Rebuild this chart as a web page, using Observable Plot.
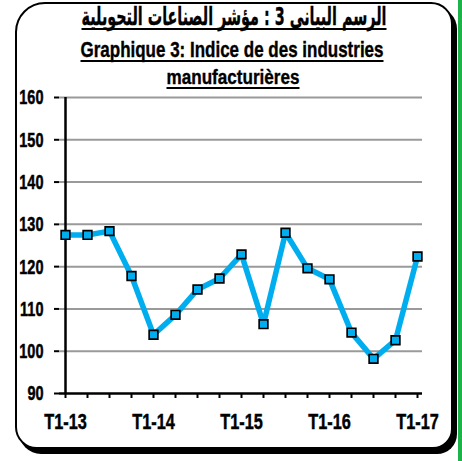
<!DOCTYPE html>
<html>
<head>
<meta charset="utf-8">
<script src="https://cdn.jsdelivr.net/npm/d3@7"></script>
<script src="https://cdn.jsdelivr.net/npm/@observablehq/plot@0.6"></script>
<style>
  html, body { margin: 0; padding: 0; background: #fff; }
  #wrap { position: relative; width: 462px; height: 461px; overflow: hidden; background: #fff; font-family: "Liberation Sans", Arial, sans-serif; }
  #frame { position: absolute; left: 15px; top: 2px; width: 434px; height: 443px; border: 2px solid #000; border-radius: 30px 22px 20px 22px; box-shadow: 4px 5px 0 0 #000; background: #fff; }
  #green { position: absolute; left: 458px; top: 0; width: 4px; height: 461px; background: #1db34a; }
  #plot, #titles { position: absolute; left: 0; top: 0; }
</style>
</head>
<body>
<div id="wrap">
  <div id="frame"></div>
  <div id="green"></div>
  <div id="plot"></div>
  <svg id="titles" width="462" height="461"></svg>
</div>
<script>
// ---- data ----
const quarters = ["T1-13","T2-13","T3-13","T4-13","T1-14","T2-14","T3-14","T4-14","T1-15","T2-15","T3-15","T4-15","T1-16","T2-16","T3-16","T4-16","T1-17"];
const values = [127.5, 127.5, 128.4, 117.8, 103.9, 108.6, 114.6, 117.2, 122.9, 106.4, 128.0, 119.6, 117.0, 104.4, 98.2, 102.6, 122.4];
const yTicks = [90, 100, 110, 120, 130, 140, 150, 160];
const xLabels = ["T1-13","T1-14","T1-15","T1-16","T1-17"];
const titleAr = "الرسم البيانى 3 : مؤشر الصناعات التحويلية";
const titleFr1 = "Graphique 3: Indice de des industries";
const titleFr2 = "manufacturières";

const data = quarters.map((q, i) => ({q, v: values[i]}));
const blue = "#00aeef";

const chart = Plot.plot({
  width: 462,
  height: 461,
  marginLeft: 59,
  marginRight: 40,
  marginTop: 97,
  marginBottom: 68,
  style: {background: "transparent", fontFamily: "'Liberation Sans', Arial, sans-serif", fontWeight: "bold", fontSize: "14.5px", color: "#000", overflow: "visible"},
  x: {type: "point", domain: quarters, padding: 0},
  y: {domain: [90, 160]},
  marks: [
    Plot.ruleY(yTicks.filter(d => d > 90), {stroke: "#9a9a9a", strokeWidth: 2, strokeOpacity: 1}),
    Plot.axisY({ticks: yTicks, tickSize: 5, tickPadding: 11, strokeWidth: 2, stroke: "#000", label: null, fill: "#000"}),
    Plot.axisX({tickSize: 5, tickPadding: 16.5, fontSize: 16.3, strokeWidth: 2, stroke: "#000", label: null, fill: "#000",
      tickFormat: d => xLabels.includes(d) ? d : ""}),
    Plot.ruleY([90], {stroke: "#000", strokeWidth: 2.5}),
    Plot.ruleX([quarters[0]], {y1: 90, y2: 160, stroke: "#000", strokeWidth: 2.5}),
    Plot.line(data, {x: "q", y: "v", stroke: blue, strokeWidth: 5.5}),
    Plot.dot(data, {x: "q", y: "v", symbol: "square", r: 4.9, fill: blue, stroke: "#000", strokeWidth: 1.7})
  ]
});
document.getElementById("plot").appendChild(chart);

// stretch tick label glyphs vertically about their own centre (tall narrow look of the original)
const svgEl = chart.tagName.toLowerCase() === "svg" ? chart : chart.querySelector("svg");
svgEl.querySelectorAll("text").forEach(t => {
  if (!t.textContent) return;
  const isX = !!t.closest('[aria-label^="x-axis"]');
  const s = isX ? 1.33 : 1.45;
  const b = t.getBBox();
  let e = 0, f = 0;
  const tl = t.transform && t.transform.baseVal;
  if (tl && tl.numberOfItems) { const m = tl.consolidate().matrix; e = m.e; f = m.f; }
  const cx = e + b.x + b.width / 2, cy = f + b.y + b.height / 2;
  const g = document.createElementNS("http://www.w3.org/2000/svg", "g");
  g.setAttribute("transform", `translate(${cx},${cy}) scale(1,${s}) translate(${-cx},${-cy})`);
  t.parentNode.insertBefore(g, t);
  g.appendChild(t);
  t.setAttribute("stroke", "#000");
  t.setAttribute("stroke-width", "0.35");
});

// ---- titles ----
const ts = d3.select("#titles");
function title(txt, cx, baseline, width, size, sy, font, rtl) {
  const g = ts.append("g").attr("transform", `translate(${cx},${baseline}) scale(1,${sy})`);
  const t = g.append("text")
    .attr("x", 0).attr("y", 0)
    .attr("text-anchor", "middle")
    .attr("font-family", font)
    .attr("font-weight", "bold")
    .attr("font-size", size)
    .attr("textLength", width)
    .attr("lengthAdjust", "spacingAndGlyphs")
    .attr("stroke", "#000").attr("stroke-width", 0.3)
    .text(txt);
  if (rtl) t.attr("direction", "rtl");
  ts.append("line")
    .attr("x1", cx - width / 2).attr("x2", cx + width / 2)
    .attr("y1", baseline + 4).attr("y2", baseline + 4)
    .attr("stroke", "#000").attr("stroke-width", 2);
}
title(titleAr, 234, 25, 305, 21, 1.2, "'DejaVu Sans', 'Noto Sans', sans-serif", true);
title(titleFr1, 232, 57, 303, 17, 1.25, "'Liberation Sans', Arial, sans-serif", false);
title(titleFr2, 233, 84, 133, 16.5, 1.25, "'Liberation Sans', Arial, sans-serif", false);
</script>
</body>
</html>
